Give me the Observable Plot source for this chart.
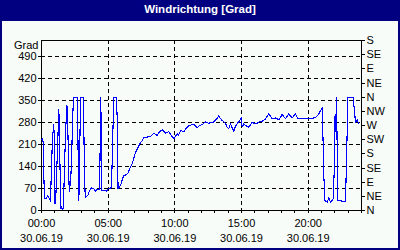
<!DOCTYPE html>
<html><head><meta charset="utf-8">
<script src="https://cdn.jsdelivr.net/npm/d3@7"></script>
<script src="https://cdn.jsdelivr.net/npm/@observablehq/plot@0.6"></script>
<style>
body{margin:0;}
#box{width:400px;height:250px;box-sizing:border-box;background:#000080;padding:0 2px 2px 2px;font-family:"Liberation Sans",Arial,sans-serif;}
#title{height:21px;line-height:18px;color:#fff;font-weight:bold;font-size:11.5px;text-align:center;}
#chart{background:#f8fcf8;width:396px;height:227px;}
#chart svg{display:block;}
</style></head><body>
<div id="box"><div id="title">Windrichtung [Grad]</div><div id="chart"></div></div>
<script>
const title = "Windrichtung [Grad]";
const unitLabel = "Grad";
const hours = [0.00,0.075,0.13,0.19,0.24,0.375,0.47,0.58,0.675,0.75,0.825,0.92,0.96,1.01,1.09,1.16,1.24,1.30,1.35,1.40,1.45,1.50,1.575,1.65,1.71,1.77,1.84,1.91,1.97,2.02,2.08,2.175,2.25,2.325,2.40,2.68,2.72,2.76,2.80,2.85,2.90,2.96,3.13,3.17,3.22,3.28,3.375,3.49,3.6,3.75,3.9,4.05,4.2,4.35,4.40,4.44,4.48,4.52,4.65,4.875,5.03,5.25,5.325,5.42,5.625,5.68,5.74,5.85,5.925,6.04,6.17,6.3,6.47,6.64,6.80,6.94,7.05,7.2,7.30,7.43,7.55,7.67,7.875,8.175,8.42,8.675,8.85,9.05,9.3,9.55,9.75,9.92,10.18,10.27,10.43,10.67,10.875,11.05,11.25,11.42,11.68,11.85,12.05,12.30,12.55,12.75,12.92,13.125,13.30,13.425,13.55,13.8,13.91,14.05,14.175,14.3,14.42,14.55,14.68,14.87,14.98,15.05,15.17,15.3,15.55,15.8,15.975,16.18,16.35,16.55,16.8,17.05,17.3,17.55,17.8,18.05,18.3,18.55,18.8,19.05,19.22,19.67,20.175,20.42,20.63,20.80,21.05,21.13,21.17,21.25,21.43,21.55,21.675,21.875,21.975,22.0,22.05,22.13,22.22,22.5,22.8,22.9,22.97,23.38,23.55,23.7,23.78];
const degrees = [225,228,215,85,38,38,48,38,30,140,230,273,229,22,60,150,244,321,244,110,5,12,3,8,120,200,280,333,275,160,60,90,150,280,358,358,280,120,30,130,280,358,358,280,120,42,45,50,62,72,70,62,68,66,200,358,273,64,64,62,70,72,200,358,358,286,70,75,79,95,111,113,118,135,149,168,185,196,206,215,222,231,233,235,246,238,250,256,246,250,238,228,244,238,254,250,262,270,272,273,263,270,273,281,277,280,281,290,301,292,286,277,265,260,276,262,252,268,276,286,296,265,275,270,265,281,275,277,282,284,291,307,291,294,288,305,291,307,294,307,291,291,291,294,298,307,326,200,116,32,26,42,26,37,150,298,250,360,32,30,30,200,358,358,281,288,275];
const leftTicks = [0,70,140,210,280,350,420,490];
const rightTicks = [0,45,90,135,180,225,270,315,360,405,450,495,540];
const rightLabels = ["N","NE","E","SE","S","SW","W","NW","N","NE","E","SE","S"];
const hourTicks = d3.range(0, 25, 1);
const majorHours = [0,5,10,15,20];
const gridHours = [5,10,15,20];
const timeLabels = ["00:00","05:00","10:00","15:00","20:00"];
const dateLabels = ["30.06.19","30.06.19","30.06.19","30.06.19","30.06.19"];

const data = hours.map((h,i)=>({h, v: degrees[i]}));
const idx = majorHours.map((_,i)=>i);

const chart = Plot.plot({
  width: 396, height: 227,
  marginLeft: 39, marginRight: 37, marginTop: 19, marginBottom: 38,
  style: {background: "transparent", fontFamily: '"Liberation Sans",Arial,sans-serif', fontSize: "11px", color: "black"},
  x: {domain: [0, 24]},
  y: {domain: [0, 540]},
  marks: [
    Plot.gridY(leftTicks.filter(d=>d>0), {stroke: "black", strokeOpacity: 1, strokeDasharray: "4,3", shapeRendering: "crispEdges"}),
    Plot.gridX(gridHours, {stroke: "black", strokeOpacity: 1, strokeDasharray: "4,3", shapeRendering: "crispEdges"}),
    Plot.frame({stroke: "black", shapeRendering: "crispEdges"}),
    Plot.line(data, {x: "h", y: "v", stroke: "#0000ff", strokeWidth: 1.1, shapeRendering: "crispEdges"}),
    Plot.axisY(leftTicks, {anchor: "left", tickSize: 3, tickPadding: 2, label: null, shapeRendering: "crispEdges"}),
    Plot.axisY(rightTicks, {anchor: "right", tickSize: 3, tickPadding: 2, label: null, tickFormat: (d)=>rightLabels[rightTicks.indexOf(d)], shapeRendering: "crispEdges"}),
    Plot.axisX(hourTicks, {anchor: "bottom", tickSize: 3, tickFormat: () => "", label: null, shapeRendering: "crispEdges"}),
    Plot.text(idx, {x: i=>majorHours[i], frameAnchor: "bottom", dy: 13, lineAnchor: "middle", text: i=>timeLabels[i]}),
    Plot.text(idx, {x: i=>majorHours[i], frameAnchor: "bottom", dy: 28, lineAnchor: "middle", text: i=>dateLabels[i]}),
    Plot.text([unitLabel], {frameAnchor: "top-left", dx: -3, dy: 5, textAnchor: "end", lineAnchor: "middle", text: d=>d})
  ]
});
document.getElementById("chart").appendChild(chart);
</script>
</body></html>
